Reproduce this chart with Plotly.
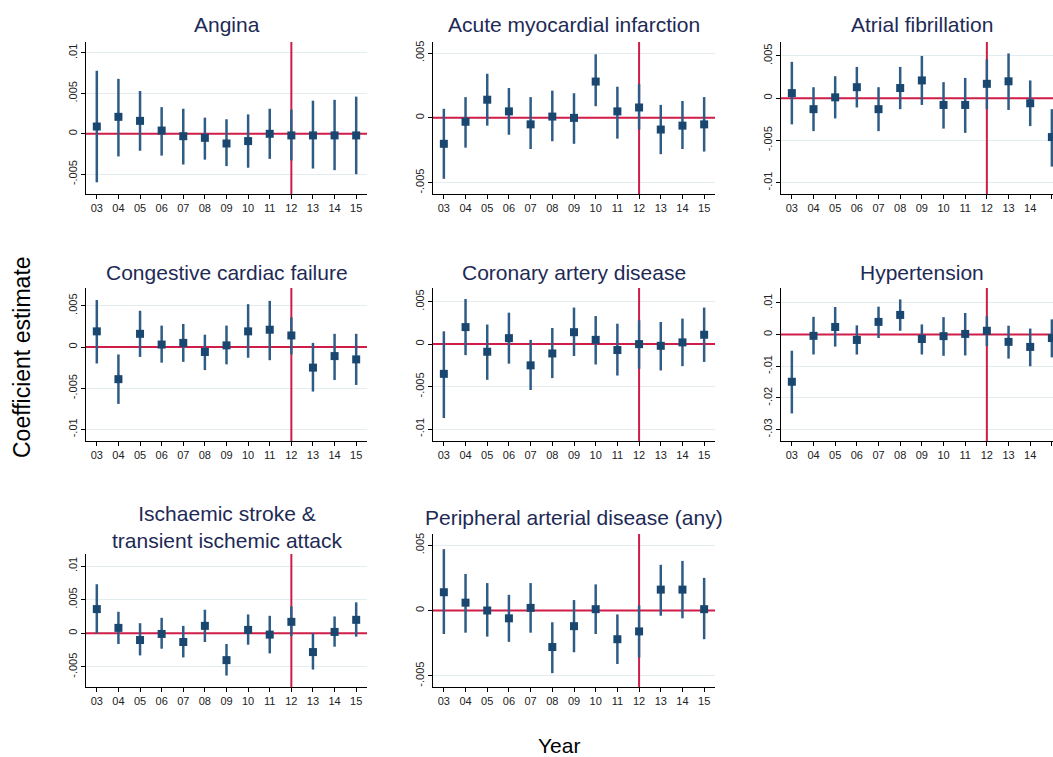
import plotly.graph_objects as go

years = [2003, 2004, 2005, 2006, 2007, 2008, 2009, 2010, 2011, 2012, 2013, 2014, 2015]
year_labels = ["03", "04", "05", "06", "07", "08", "09", "10", "11", "12", "13", "14", "15"]

titles = ["Angina", "Acute myocardial infarction", "Atrial fibrillation",
          "Congestive cardiac failure", "Coronary artery disease", "Hypertension",
          "Ischaemic stroke &<br>transient ischemic attack", "Peripheral arterial disease (any)"]

angina_est = [0.0009, 0.0021, 0.0016, 0.0004, -0.0003, -0.0005, -0.0012, -0.0009, 0.0000, -0.0002, -0.0002, -0.0002, -0.0002]
angina_lo = [-0.0060, -0.0028, -0.0021, -0.0027, -0.0038, -0.0032, -0.0040, -0.0042, -0.0031, -0.0033, -0.0043, -0.0045, -0.0050]
angina_hi = [0.0078, 0.0068, 0.0053, 0.0033, 0.0031, 0.0020, 0.0018, 0.0024, 0.0031, 0.0030, 0.0041, 0.0042, 0.0046]

ami_est = [-0.0020, -0.0003, 0.0014, 0.0005, -0.0005, 0.0001, 0.0000, 0.0028, 0.0005, 0.0008, -0.0009, -0.0006, -0.0005]
ami_lo = [-0.0047, -0.0023, -0.0006, -0.0013, -0.0024, -0.0018, -0.0020, 0.0009, -0.0016, -0.0009, -0.0028, -0.0024, -0.0026]
ami_hi = [0.0007, 0.0016, 0.0034, 0.0023, 0.0016, 0.0021, 0.0019, 0.0049, 0.0024, 0.0026, 0.0010, 0.0013, 0.0016]

af_est = [0.0006, -0.0013, 0.0001, 0.0013, -0.0013, 0.0012, 0.0021, -0.0008, -0.0008, 0.0017, 0.0020, -0.0006, -0.0046]
af_lo = [-0.0031, -0.0039, -0.0024, -0.0011, -0.0039, -0.0013, -0.0008, -0.0036, -0.0041, -0.0013, -0.0014, -0.0033, -0.0081]
af_hi = [0.0043, 0.0013, 0.0026, 0.0037, 0.0013, 0.0037, 0.0050, 0.0019, 0.0024, 0.0046, 0.0053, 0.0021, -0.0013]

ccf_est = [0.0019, -0.0039, 0.0016, 0.0003, 0.0005, -0.0006, 0.0002, 0.0019, 0.0021, 0.0014, -0.0025, -0.0011, -0.0015]
ccf_lo = [-0.0020, -0.0069, -0.0012, -0.0019, -0.0018, -0.0028, -0.0021, -0.0013, -0.0016, -0.0009, -0.0054, -0.0040, -0.0046]
ccf_hi = [0.0057, -0.0009, 0.0044, 0.0026, 0.0028, 0.0015, 0.0026, 0.0052, 0.0056, 0.0036, 0.0005, 0.0016, 0.0016]

cad_est = [-0.0035, 0.0020, -0.0009, 0.0007, -0.0025, -0.0011, 0.0014, 0.0005, -0.0007, 0.0000, -0.0002, 0.0002, 0.0011]
cad_lo = [-0.0087, -0.0013, -0.0042, -0.0023, -0.0054, -0.0040, -0.0014, -0.0024, -0.0037, -0.0029, -0.0031, -0.0026, -0.0021]
cad_hi = [0.0015, 0.0053, 0.0023, 0.0037, 0.0005, 0.0019, 0.0043, 0.0033, 0.0024, 0.0028, 0.0026, 0.0030, 0.0043]

htn_est = [-0.0149, -0.0004, 0.0024, -0.0017, 0.0040, 0.0062, -0.0014, -0.0005, 0.0002, 0.0012, -0.0023, -0.0039, -0.0011]
htn_lo = [-0.0249, -0.0063, -0.0038, -0.0063, -0.0011, 0.0012, -0.0063, -0.0067, -0.0066, -0.0036, -0.0076, -0.0100, -0.0072]
htn_hi = [-0.0051, 0.0056, 0.0087, 0.0029, 0.0088, 0.0111, 0.0032, 0.0055, 0.0068, 0.0058, 0.0028, 0.0019, 0.0048]

stroke_est = [0.0036, 0.0008, -0.0010, -0.0001, -0.0013, 0.0011, -0.0040, 0.0005, -0.0002, 0.0017, -0.0028, 0.0002, 0.0020]
stroke_lo = [0.0000, -0.0016, -0.0033, -0.0023, -0.0036, -0.0013, -0.0063, -0.0017, -0.0030, -0.0004, -0.0054, -0.0020, -0.0005]
stroke_hi = [0.0073, 0.0032, 0.0015, 0.0023, 0.0011, 0.0035, -0.0016, 0.0028, 0.0026, 0.0040, 0.0000, 0.0025, 0.0046]

pad_est = [0.0014, 0.0006, 0.0000, -0.0006, 0.0002, -0.0028, -0.0012, 0.0001, -0.0022, -0.0016, 0.0016, 0.0016, 0.0001]
pad_lo = [-0.0018, -0.0017, -0.0020, -0.0024, -0.0017, -0.0048, -0.0032, -0.0018, -0.0041, -0.0036, -0.0004, -0.0006, -0.0022]
pad_hi = [0.0047, 0.0028, 0.0021, 0.0012, 0.0021, -0.0009, 0.0008, 0.0020, -0.0003, 0.0004, 0.0035, 0.0038, 0.0025]

ytick_vals = [
    [-0.005, 0, 0.005, 0.01],
    [-0.005, 0, 0.005],
    [-0.01, -0.005, 0, 0.005],
    [-0.01, -0.005, 0, 0.005],
    [-0.01, -0.005, 0, 0.005],
    [-0.03, -0.02, -0.01, 0, 0.01],
    [-0.005, 0, 0.005, 0.01],
    [-0.005, 0, 0.005],
]
ytick_text = [
    ["-.005", "0", ".005", ".01"],
    ["-.005", "0", ".005"],
    ["-.01", "-.005", "0", ".005"],
    ["-.01", "-.005", "0", ".005"],
    ["-.01", "-.005", "0", ".005"],
    ["-.03", "-.02", "-.01", "0", ".01"],
    ["-.005", "0", ".005", ".01"],
    ["-.005", "0", ".005"],
]
y_ranges = [
    [-0.00745, 0.01136], [-0.00587, 0.00585], [-0.01134, 0.00665],
    [-0.0114, 0.00716], [-0.0114, 0.0066], [-0.0336, 0.0147],
    [-0.0080, 0.0118], [-0.00586, 0.00586],
]
ref_year = 2012
ref_value = 0

panels = [
    (angina_est, angina_lo, angina_hi),
    (ami_est, ami_lo, ami_hi),
    (af_est, af_lo, af_hi),
    (ccf_est, ccf_lo, ccf_hi),
    (cad_est, cad_lo, cad_hi),
    (htn_est, htn_lo, htn_hi),
    (stroke_est, stroke_lo, stroke_hi),
    (pad_est, pad_lo, pad_hi),
]

W, H = 1053, 757
# plot-area pixel boxes (left, right, top, bottom)
boxes = [
    (86, 367, 42, 194), (433, 715, 42, 194), (781, 1053, 42, 194),
    (86, 367, 288, 441), (433, 715, 288, 441), (781, 1053, 288, 441),
    (86, 367, 554, 687), (433, 715, 534, 687),
]
title_pos = [(226.5, 24), (574, 24), (922, 24),
             (226.5, 272), (574, 272), (922, 272),
             (226.5, 527), (574, 517)]

NAVY = "#1a476f"
BAR = "#2f5c86"
RED = "#cf1d48"
GRID = "#e3ecef"
FONT = "Liberation Sans, Arial, sans-serif"

fig = go.Figure()
layout = dict(
    width=W, height=H,
    margin=dict(l=0, r=0, t=0, b=0),
    paper_bgcolor="white", plot_bgcolor="white",
    showlegend=False,
    font=dict(family=FONT, color="#222222", size=11),
    annotations=[],
)

for i, (est, lo, hi) in enumerate(panels):
    n = i + 1
    xa = "x" if n == 1 else f"x{n}"
    ya = "y" if n == 1 else f"y{n}"
    l, r, t, b = boxes[i]
    xr = [2002.5, 2015.5]
    if r == W:
        xr = [2002.5, 2002.5 + (r - l) / 21.67]
    yr = y_ranges[i]
    # reference lines (red)
    fig.add_trace(go.Scatter(x=xr, y=[ref_value, ref_value], mode="lines", xaxis=xa, yaxis=ya,
                             line=dict(color=RED, width=2), hoverinfo="skip"))
    fig.add_trace(go.Scatter(x=[ref_year, ref_year], y=yr, mode="lines", xaxis=xa, yaxis=ya,
                             line=dict(color=RED, width=2), hoverinfo="skip"))
    fig.add_trace(go.Scatter(
        x=years, y=est, mode="markers", xaxis=xa, yaxis=ya,
        marker=dict(symbol="square", size=8, color=NAVY),
        error_y=dict(type="data", symmetric=False,
                     array=[h - e for h, e in zip(hi, est)],
                     arrayminus=[e - lv for e, lv in zip(est, lo)],
                     width=0, thickness=2.5, color=BAR),
    ))
    axkey = "xaxis" if n == 1 else f"xaxis{n}"
    aykey = "yaxis" if n == 1 else f"yaxis{n}"
    layout[axkey] = dict(
        domain=[l / W, r / W], anchor=ya, range=xr,
        tickvals=years, ticktext=year_labels, tickangle=0,
        showgrid=False, zeroline=False, showline=True, linecolor="#000000", linewidth=1.2,
        ticks="outside", ticklen=4, tickcolor="#000000", tickwidth=1,
        tickfont=dict(size=11, color="#222222", family=FONT),
    )
    layout[aykey] = dict(
        domain=[1 - b / H, 1 - t / H], anchor=xa, range=yr,
        tickvals=ytick_vals[i], ticktext=ytick_text[i], tickangle=-90,
        showgrid=True, gridcolor=GRID, gridwidth=1.2, zeroline=False,
        showline=True, linecolor="#000000", linewidth=1.2,
        ticks="outside", ticklen=4, tickcolor="#000000", tickwidth=1,
        tickfont=dict(size=11, color="#222222", family=FONT),
    )
    tx, ty = title_pos[i]
    layout["annotations"].append(dict(
        text=titles[i], x=tx / W, y=1 - ty / H, xref="paper", yref="paper",
        xanchor="center", yanchor="middle", showarrow=False,
        font=dict(size=21, color="#1e2a55", family=FONT),
    ))

layout["annotations"].append(dict(
    text="Coefficient estimate", x=22 / W, y=1 - 357 / H, xref="paper", yref="paper",
    textangle=-90, showarrow=False, xanchor="center", yanchor="middle",
    font=dict(size=23, color="#000000", family=FONT),
))
layout["annotations"].append(dict(
    text="Year", x=559 / W, y=1 - 745 / H, xref="paper", yref="paper",
    showarrow=False, xanchor="center", yanchor="middle",
    font=dict(size=21, color="#000000", family=FONT),
))

fig.update_layout(**layout)
fig.write_html(
    "out.html", config={"displayModeBar": False},
    post_script=("document.documentElement.style.overflow='hidden';"
                 "document.body.style.overflow='hidden';"
                 "document.body.style.margin='0px';"),
)
